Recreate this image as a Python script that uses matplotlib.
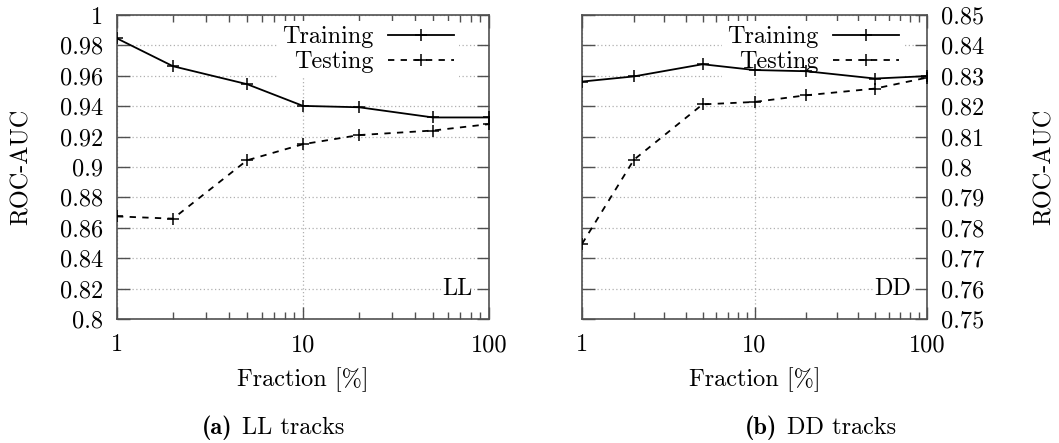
"""ROC-AUC vs training fraction for LL and DD tracks"""
import matplotlib
matplotlib.use('Agg')
import matplotlib.pyplot as plt
from matplotlib.ticker import FixedLocator, LogLocator, NullFormatter, FixedFormatter

plt.rcParams['font.family'] = ['cmr10', 'DejaVu Serif']
plt.rcParams['axes.unicode_minus'] = False
plt.rcParams['axes.formatter.use_mathtext'] = True

FS = 17.5

fractions = [1, 2, 5, 10, 20, 50, 100]

ll_train = [0.9846, 0.9663, 0.9545, 0.9402, 0.9393, 0.9326, 0.9326]
ll_test = [0.8675, 0.8660, 0.9044, 0.9150, 0.9210, 0.9240, 0.9282]

dd_train = [0.8281, 0.8298, 0.8338, 0.8319, 0.8315, 0.8291, 0.8299]
dd_test = [0.7747, 0.8024, 0.8206, 0.8214, 0.8236, 0.8258, 0.8294]

ll_ticks = [0.8, 0.82, 0.84, 0.86, 0.88, 0.9, 0.92, 0.94, 0.96, 0.98, 1.0]
ll_labels = ['0.8', '0.82', '0.84', '0.86', '0.88', '0.9', '0.92', '0.94', '0.96', '0.98', '1']
dd_ticks = [0.75, 0.76, 0.77, 0.78, 0.79, 0.8, 0.81, 0.82, 0.83, 0.84, 0.85]
dd_labels = ['0.75', '0.76', '0.77', '0.78', '0.79', '0.8', '0.81', '0.82', '0.83', '0.84', '0.85']

W, H = 1059, 443
fig = plt.figure(figsize=(W / 100, H / 100), dpi=100)

ax1 = fig.add_axes([117 / W, 1 - 319 / H, (489 - 117) / W, (319 - 15) / H])
ax2 = fig.add_axes([582 / W, 1 - 319 / H, (927 - 582) / W, (319 - 15) / H])

spine_col = '#505050'


def style_axes(ax, train, test, ticks, labels, ylim, tag, right, leg_x):
    ax.plot(fractions, train, color='black', lw=1.3, marker='+', ms=8, mew=1.1,
            label='Training', zorder=3)
    ax.plot(fractions, test, color='black', lw=1.3, ls=(0, (3.5, 3.5)), marker='+',
            ms=8, mew=1.1, label='Testing', zorder=3)
    ax.set_xscale('log')
    ax.set_xlim(1, 100)
    ax.set_ylim(*ylim)
    ax.xaxis.set_major_locator(FixedLocator([1, 10, 100]))
    ax.xaxis.set_major_formatter(FixedFormatter(['1', '10', '100']))
    ax.xaxis.set_minor_locator(LogLocator(base=10, subs=range(2, 10)))
    ax.xaxis.set_minor_formatter(NullFormatter())
    ax.yaxis.set_major_locator(FixedLocator(ticks))
    ax.yaxis.set_major_formatter(FixedFormatter(labels))
    ax.yaxis.set_minor_locator(FixedLocator([]))

    ax.tick_params(which='both', direction='in', top=True, right=True,
                   color=spine_col, width=1.0, labelsize=FS)
    ax.tick_params(which='major', length=9)
    ax.tick_params(which='minor', length=5)
    ax.tick_params(axis='x', pad=11)
    ax.tick_params(axis='y', pad=10)
    if right:
        ax.tick_params(axis='y', labelleft=False, labelright=True)
    for s in ax.spines.values():
        s.set_color(spine_col)
        s.set_linewidth(1.2)

    ax.set_axisbelow(True)
    ax.grid(True, which='major', color='#b0b0b0', ls=(0, (1, 2)), lw=0.9)

    leg = ax.legend(loc='upper right', bbox_to_anchor=(leg_x, 1.0),
                    markerfirst=False, frameon=True,
                    fontsize=FS, handlelength=2.7, handletextpad=0.6,
                    labelspacing=0.12, borderpad=0.2, borderaxespad=0.25,
                    fancybox=False)
    leg.get_frame().set_facecolor('white')
    leg.get_frame().set_edgecolor('none')
    leg.get_frame().set_alpha(1.0)
    leg.set_zorder(2)

    ax.text(0.955, 0.10, tag, transform=ax.transAxes, ha='right', va='center',
            fontsize=FS, bbox=dict(facecolor='white', edgecolor='none', pad=1.0))

    ax.set_xlabel('Fraction [%]', fontsize=FS)
    ax.xaxis.set_label_coords(0.5, -0.20)
    ax.xaxis.label.set_va('center')
    ax.set_ylabel('ROC-AUC', fontsize=FS)
    if right:
        ax.yaxis.set_label_position('right')
        ax.yaxis.set_label_coords((1045 - 582) / 345, 0.5)
    else:
        ax.yaxis.set_label_coords((22 - 117) / 372, 0.5)
    ax.yaxis.label.set_va('center')


style_axes(ax1, ll_train, ll_test, ll_ticks, ll_labels, (0.8, 1.0), 'LL', False, 0.935)
style_axes(ax2, dd_train, dd_test, dd_ticks, dd_labels, (0.75, 0.85), 'DD', True, 0.95)

cap_y = 1 - 428 / H
fig.text(232 / W, cap_y, '(a)', fontfamily='cmb10', fontsize=FS, ha='right', va='center')
fig.text(242 / W, cap_y, 'LL tracks', fontsize=FS, ha='left', va='center')
fig.text(777 / W, cap_y, '(b)', fontfamily='cmb10', fontsize=FS, ha='right', va='center')
fig.text(787 / W, cap_y, 'DD tracks', fontsize=FS, ha='left', va='center')

fig.savefig('out.png', dpi=100)
